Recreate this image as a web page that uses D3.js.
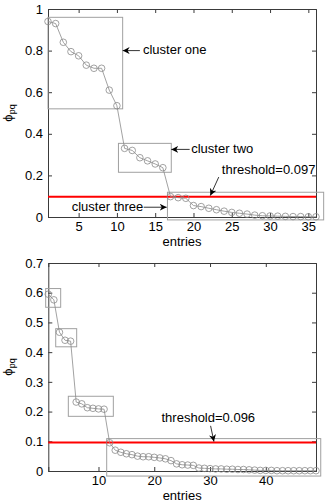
<!DOCTYPE html>
<html>
<head>
<meta charset="utf-8">
<script src="https://cdn.jsdelivr.net/npm/d3@7"></script>
<style>
  body { margin: 0; background: #fff; }
  svg { display: block; font-family: "Liberation Sans", Arial, sans-serif; }
</style>
</head>
<body>
<svg id="chart" width="326" height="504"></svg>
<script>
// top panel: 36 entries
const topEntries = d3.range(1, 37);
const topPhi = [0.94, 0.93, 0.84, 0.795, 0.775, 0.73, 0.715, 0.715, 0.61, 0.535,
    0.33, 0.32, 0.285, 0.27, 0.255, 0.237, 0.098, 0.093, 0.09, 0.055,
    0.05, 0.042, 0.035, 0.028, 0.022, 0.018, 0.014, 0.009, 0.006, 0.005,
    0.004, 0.003, 0.002, 0.002, 0.001, 0.001];
const topXTicks = [5, 10, 15, 20, 25, 30, 35];
const topYTicks = [0, 0.2, 0.4, 0.6, 0.8, 1];
const topThreshold = 0.097;

// bottom panel: 49 entries
const bottomEntries = d3.range(1, 50);
const bottomPhi = [0.595, 0.576, 0.467, 0.44, 0.437, 0.232, 0.226, 0.213, 0.211, 0.209,
    0.208, 0.095, 0.07, 0.063, 0.058, 0.055, 0.05, 0.048, 0.048, 0.046,
    0.044, 0.041, 0.035, 0.024, 0.021, 0.02, 0.019, 0.01, 0.009, 0.008,
    0.007, 0.007, 0.006, 0.006, 0.005, 0.005, 0.004, 0.003, 0.002, 0.002,
    0.002, 0.001, 0.001, 0.001, 0.001, 0.001, 0.001, 0.001, 0.001];
const bottomXTicks = [10, 20, 30, 40];
const bottomYTicks = [0, 0.1, 0.2, 0.3, 0.4, 0.5, 0.6, 0.7];
const bottomThreshold = 0.096;

const svg = d3.select('#chart');

svg.append('defs').append('marker')
    .attr('id', 'head')
    .attr('viewBox', '0 0 10 10')
    .attr('refX', 10).attr('refY', 5)
    .attr('markerWidth', 7).attr('markerHeight', 7)
    .attr('markerUnits', 'userSpaceOnUse')
    .attr('orient', 'auto')
    .append('path')
    .attr('d', 'M0,0 L10,5 L0,10 L3,5 Z')
    .attr('fill', '#000');

function drawPanel(cfg) {
    const x = d3.scaleLinear().domain(cfg.xDomain).range([cfg.left, cfg.right]);
    const y = d3.scaleLinear().domain(cfg.yDomain).range([cfg.bottom, cfg.top]);
    const g = svg.append('g');
    const axisColor = '#3a3a3a';

    // frame with inward ticks on all sides (matlab look)
    g.append('g').attr('transform', `translate(0,${cfg.bottom})`)
        .call(d3.axisBottom(x).tickValues(cfg.xTicks).tickSize(-4).tickPadding(5).tickFormat(d3.format('d')));
    g.append('g').attr('transform', `translate(0,${cfg.top})`)
        .call(d3.axisTop(x).tickValues(cfg.xTicks).tickSize(-4).tickFormat(''));
    g.append('g').attr('transform', `translate(${cfg.left},0)`)
        .call(d3.axisLeft(y).tickValues(cfg.yTicks).tickSize(-4).tickPadding(5).tickFormat(d => String(+d.toFixed(1))));
    g.append('g').attr('transform', `translate(${cfg.right},0)`)
        .call(d3.axisRight(y).tickValues(cfg.yTicks).tickSize(-4).tickFormat(''));
    g.selectAll('.domain').attr('stroke', axisColor);
    g.selectAll('.tick line').attr('stroke', axisColor);
    g.selectAll('.tick text').attr('fill', '#000').attr('font-size', 13)
        .attr('font-family', '"Liberation Sans", Arial, sans-serif');

    // cluster boxes
    g.selectAll('rect.box').data(cfg.boxes).enter().append('rect')
        .attr('class', 'box')
        .attr('x', d => x(d[0])).attr('y', d => y(d[3]))
        .attr('width', d => x(d[1]) - x(d[0])).attr('height', d => y(d[2]) - y(d[3]))
        .attr('fill', 'none').attr('stroke', '#a0a0a0').attr('stroke-width', 1);

    // threshold
    g.append('line')
        .attr('x1', x(cfg.xDomain[0])).attr('x2', x(cfg.xDomain[1]))
        .attr('y1', y(cfg.threshold)).attr('y2', y(cfg.threshold))
        .attr('stroke', '#ff0000').attr('stroke-width', 2);

    // series
    const pts = cfg.xs.map((v, i) => [v, cfg.ys[i]]);
    g.append('path').datum(pts)
        .attr('d', d3.line().x(d => x(d[0])).y(d => y(d[1])))
        .attr('fill', 'none').attr('stroke', '#8a8a8a').attr('stroke-width', 0.8);
    g.selectAll('circle').data(pts).enter().append('circle')
        .attr('cx', d => x(d[0])).attr('cy', d => y(d[1])).attr('r', 3.3)
        .attr('fill', 'none').attr('stroke', '#8a8a8a').attr('stroke-width', 0.8);

    // annotations
    cfg.notes.forEach(n => {
        g.append('line')
            .attr('x1', x(n.from[0])).attr('y1', y(n.from[1]))
            .attr('x2', x(n.to[0])).attr('y2', y(n.to[1]))
            .attr('stroke', '#000').attr('stroke-width', 0.8)
            .attr('marker-end', 'url(#head)');
        g.append('text')
            .attr('x', x(n.at[0])).attr('y', y(n.at[1]))
            .attr('font-size', 13).attr('fill', '#000')
            .text(n.label);
    });

    // axis labels
    g.append('text')
        .attr('x', (cfg.left + cfg.right) / 2).attr('y', cfg.bottom + 29)
        .attr('text-anchor', 'middle').attr('font-size', 13)
        .text('entries');
    const yl = g.append('text')
        .attr('transform', `translate(12,${(cfg.top + cfg.bottom) / 2}) rotate(-90)`)
        .attr('text-anchor', 'middle').attr('font-size', 13);
    yl.append('tspan').text('ϕ');
    yl.append('tspan').attr('font-size', 9).attr('dy', 3).text('pq');
}

drawPanel({
    left: 48, right: 316, top: 9, bottom: 217,
    xDomain: [1, 36], yDomain: [0, 1],
    xTicks: topXTicks, yTicks: topYTicks,
    xs: topEntries, ys: topPhi, threshold: topThreshold,
    boxes: [[1, 10.75, 0.52, 0.96], [10.2, 17.1, 0.215, 0.354], [16.6, 37, -0.014, 0.119]],
    notes: [
        { label: 'cluster one', at: [13.4, 0.784], from: [13.0, 0.8], to: [10.75, 0.8] },
        { label: 'cluster two', at: [19.7, 0.307], from: [19.5, 0.325], to: [17.1, 0.325] },
        { label: 'threshold=0.097', at: [23.7, 0.207], from: [23.3, 0.192], to: [22.2, 0.103] },
        { label: 'cluster three', at: [4.1, 0.029], from: [13.5, 0.047], to: [16.5, 0.047] }
    ]
});

drawPanel({
    left: 48.3, right: 316, top: 263, bottom: 471,
    xDomain: [1, 49], yDomain: [0, 0.7],
    xTicks: bottomXTicks, yTicks: bottomYTicks,
    xs: bottomEntries, ys: bottomPhi, threshold: bottomThreshold,
    boxes: [[0.53, 3.22, 0.551, 0.614], [2.33, 6.09, 0.418, 0.479], [4.59, 12.66, 0.184, 0.2515], [11.47, 49.85, -0.017, 0.109]],
    notes: [
        { label: 'threshold=0.096', at: [21.3, 0.164], from: [30.1, 0.152], to: [30.7, 0.099] }
    ]
});
</script>
</body>
</html>
